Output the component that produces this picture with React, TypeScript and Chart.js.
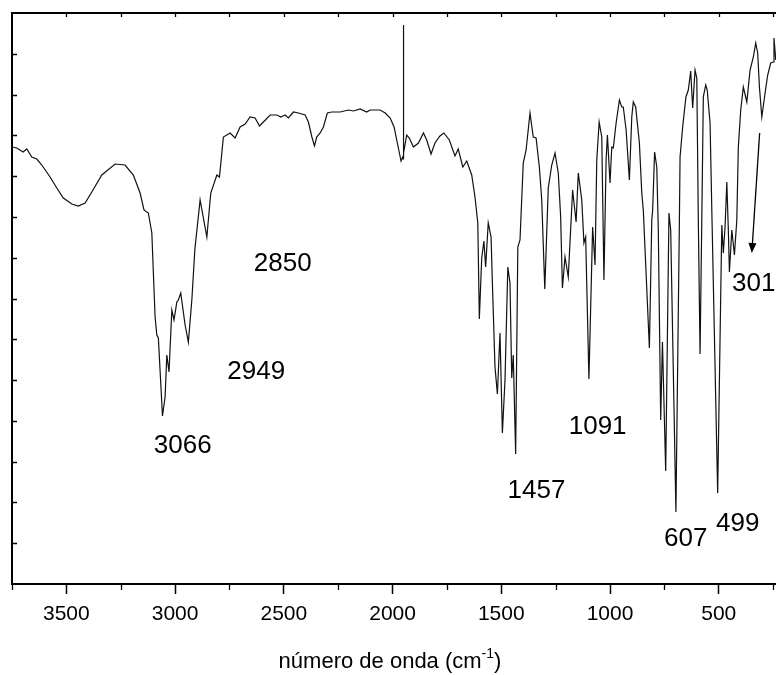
import { useEffect, useRef } from 'react';
import { Chart, registerables } from 'chart.js';

Chart.register(...registerables);

// Wavenumber (cm-1), read left to right
const wavenumbers = [
  3750, 3728, 3699, 3682, 3659, 3636, 3613, 3575, 3544, 3514, 3475, 3445, 3414, 3383, 3337, 3276, 3230, 3192, 3161, 3143,
  3123, 3107, 3092, 3084, 3077, 3058, 3046, 3038, 3028, 3015, 3005, 2992, 2985, 2974, 2954, 2939, 2923, 2909, 2885, 2854,
  2836, 2808, 2796, 2778, 2747, 2724, 2701, 2678, 2655, 2632, 2612, 2594, 2563, 2532, 2514, 2494, 2479, 2456, 2433, 2402,
  2387, 2371, 2359, 2349, 2333, 2318, 2300, 2280, 2241, 2203, 2180, 2149, 2119, 2103, 2057, 2034, 2011, 1993, 1978, 1961,
  1953, 1951, 1950, 1949, 1935, 1923, 1904, 1881, 1858, 1843, 1823, 1805, 1782, 1764, 1739, 1713, 1698, 1677, 1659, 1636,
  1621, 1608, 1601, 1590, 1580, 1572, 1560, 1547, 1540, 1529, 1518, 1506, 1495, 1483, 1470, 1460, 1452, 1445, 1434, 1424,
  1414, 1399, 1386, 1368, 1353, 1340, 1325, 1314, 1300, 1284, 1268, 1253, 1238, 1227, 1219, 1207, 1192, 1172, 1156, 1146,
  1130, 1120, 1112, 1097, 1080, 1069, 1061, 1050, 1038, 1028, 1018, 1012, 1000, 992, 985, 972, 957, 946, 939, 926,
  911, 900, 893, 882, 865, 854, 847, 819, 808, 804, 795, 785, 778, 767, 759, 744, 729, 721, 697, 681,
  678, 666, 651, 640, 629, 620, 609, 601, 594, 586, 578, 571, 560, 553, 540, 531, 505, 486, 479, 471,
  463, 456, 451, 440, 428, 417, 410, 399, 387, 371, 356, 341, 330, 321, 313, 302, 287, 275, 261, 249,
  246, 238,
];

// Transmittance (arbitrary units, axis has no labels)
const transmittance = [
  437, 436, 432, 435, 427, 425, 419, 407, 396, 386, 380, 378, 381, 392, 409, 420, 419, 409, 391, 374,
  371, 351, 267, 249, 246, 168, 187, 229, 212, 274, 264, 282, 284, 291, 259, 242, 284, 335, 384, 347,
  391, 409, 407, 447, 451, 446, 457, 460, 467, 466, 458, 462, 469, 469, 467, 469, 466, 472, 471, 469,
  462, 447, 438, 447, 451, 457, 471, 472, 472, 474, 473, 475, 472, 474, 474, 471, 466, 457, 441, 423,
  427, 425, 559, 431, 449, 446, 437, 441, 451, 444, 430, 441, 448, 451, 444, 428, 435, 417, 423, 409,
  387, 361, 265, 326, 343, 317, 361, 347, 294, 217, 190, 251, 151, 204, 317, 301, 206, 229, 130, 337,
  344, 421, 434, 471, 447, 446, 417, 384, 295, 396, 419, 431, 411, 367, 296, 327, 307, 394, 362, 411,
  384, 341, 347, 205, 357, 319, 424, 462, 447, 304, 424, 449, 401, 437, 436, 461, 484, 477, 477, 454,
  404, 467, 482, 477, 441, 391, 374, 236, 364, 374, 432, 417, 354, 164, 242, 113, 371, 354, 72, 364,
  427, 457, 487, 494, 513, 476, 514, 506, 364, 230, 364, 487, 499, 494, 461, 364, 91, 359, 331, 357,
  402, 354, 312, 354, 329, 364, 437, 474, 497, 482, 514, 527, 541, 531, 497, 467, 491, 509, 521, 522,
  546, 524,
];

const xMajorTicks = [3500, 3000, 2500, 2000, 1500, 1000, 500];
const xMinorTicks = [3750, 3250, 2750, 2250, 1750, 1250, 750, 250];
const xTopTicks = [3500, 3250, 3000, 2750, 2500, 2250, 2000, 1750, 1500, 1250, 1000, 750, 500, 250];
const yMax = 571;
const yTickCount = 14;

const peakLabels = ['3066', '2949', '2850', '1457', '1091', '607', '499', '301'];
const peakLabelX = [2965, 2627, 2505, 1338, 1057, 652, 413, 339];
const peakLabelY = [138, 212, 320, 93, 157, 45, 60, 300];

const arrowStart = { x: 312, y: 451 };
const arrowEnd = { x: 348, y: 331 };

const FONT = '"Liberation Sans", Arial, Helvetica, sans-serif';

const decorPlugin = {
  id: 'decor',
  afterDraw(chart: any) {
    const { ctx, chartArea } = chart;
    const { left, right, top, bottom } = chartArea;
    const xs = chart.scales.x;
    const ys = chart.scales.y;
    ctx.save();
    ctx.strokeStyle = '#000';
    ctx.fillStyle = '#000';
    // top frame line
    ctx.lineWidth = 2;
    ctx.beginPath();
    ctx.moveTo(left - 1, top);
    ctx.lineTo(right, top);
    ctx.stroke();
    ctx.lineWidth = 1.3;
    // top inward ticks
    ctx.beginPath();
    xTopTicks.forEach((v) => {
      const px = Math.round(xs.getPixelForValue(v)) + 0.5;
      ctx.moveTo(px, top);
      ctx.lineTo(px, top + 4);
    });
    // left inward ticks
    const step = yMax / yTickCount;
    for (let i = 1; i < yTickCount; i++) {
      const py = Math.round(ys.getPixelForValue(i * step)) + 0.5;
      ctx.moveTo(left, py);
      ctx.lineTo(left + 5, py);
    }
    // bottom minor ticks
    xMinorTicks.forEach((v) => {
      const px = Math.round(xs.getPixelForValue(v)) + 0.5;
      ctx.moveTo(px, bottom);
      ctx.lineTo(px, bottom + 6);
    });
    ctx.stroke();

    // peak labels
    ctx.font = `26px ${FONT}`;
    ctx.textAlign = 'center';
    ctx.textBaseline = 'middle';
    peakLabels.forEach((t, i) => {
      ctx.fillText(t, xs.getPixelForValue(peakLabelX[i]), ys.getPixelForValue(peakLabelY[i]));
    });

    // arrow
    const ax0 = xs.getPixelForValue(arrowStart.x);
    const ay0 = ys.getPixelForValue(arrowStart.y);
    const ax1 = xs.getPixelForValue(arrowEnd.x);
    const ay1 = ys.getPixelForValue(arrowEnd.y);
    const ang = Math.atan2(ay1 - ay0, ax1 - ax0);
    const hl = 10;
    const hw = 4;
    ctx.lineWidth = 1.3;
    ctx.beginPath();
    ctx.moveTo(ax0, ay0);
    ctx.lineTo(ax1 - Math.cos(ang) * hl * 0.8, ay1 - Math.sin(ang) * hl * 0.8);
    ctx.stroke();
    ctx.beginPath();
    ctx.moveTo(ax1, ay1);
    ctx.lineTo(ax1 - Math.cos(ang) * hl - Math.sin(ang) * hw, ay1 - Math.sin(ang) * hl + Math.cos(ang) * hw);
    ctx.lineTo(ax1 - Math.cos(ang) * hl + Math.sin(ang) * hw, ay1 - Math.sin(ang) * hl - Math.cos(ang) * hw);
    ctx.closePath();
    ctx.fill();

    // axis title with superscript
    const main = 'número de onda (cm';
    const sup = '-1';
    const close = ')';
    ctx.textAlign = 'left';
    ctx.textBaseline = 'alphabetic';
    ctx.font = `22px ${FONT}`;
    const w1 = ctx.measureText(main).width;
    const w3 = ctx.measureText(close).width;
    ctx.font = `14px ${FONT}`;
    const w2 = ctx.measureText(sup).width;
    const total = w1 + w2 + w3;
    const cx = 390;
    const base = bottom + 84;
    let x0 = cx - total / 2;
    ctx.font = `22px ${FONT}`;
    ctx.fillText(main, x0, base);
    x0 += w1;
    ctx.font = `14px ${FONT}`;
    ctx.fillText(sup, x0, base - 10);
    x0 += w2;
    ctx.font = `22px ${FONT}`;
    ctx.fillText(close, x0, base);
    ctx.restore();
  },
};

export default function App() {
  const ref = useRef<HTMLCanvasElement | null>(null);
  useEffect(() => {
    if (!ref.current) return;
    const points = wavenumbers.map((w, i) => ({ x: w, y: transmittance[i] }));
    const chart = new Chart(ref.current, {
      type: 'line',
      data: {
        datasets: [
          {
            data: points,
            borderColor: '#111',
            borderWidth: 1.2,
            pointRadius: 0,
            tension: 0,
            fill: false,
          },
        ],
      },
      options: {
        responsive: false,
        animation: false,
        devicePixelRatio: 1,
        layout: { padding: { top: 13, left: 0, right: 0, bottom: 0 } },
        plugins: { legend: { display: false }, tooltip: { enabled: false } },
        scales: {
          x: {
            type: 'linear',
            reverse: true,
            min: 200,
            max: 3750,
            afterBuildTicks: (scale: any) => {
              scale.ticks = xMajorTicks.map((v) => ({ value: v }));
            },
            afterFit: (scale: any) => {
              scale.height = 91;
            },
            ticks: {
              color: '#000',
              font: { family: FONT, size: 21 },
              padding: 8,
              maxRotation: 0,
              autoSkip: false,
              callback: (v: any) => String(v),
            },
            grid: {
              display: true,
              drawOnChartArea: false,
              drawTicks: true,
              tickLength: 10,
              tickWidth: 1.5,
              tickColor: '#000',
              color: '#000',
            },
            border: { display: true, color: '#000', width: 2 },
          },
          y: {
            type: 'linear',
            min: 0,
            max: yMax,
            afterFit: (scale: any) => {
              scale.width = 12;
            },
            ticks: { display: false },
            grid: { display: false, drawTicks: false },
            border: { display: true, color: '#000', width: 2 },
          },
        },
      },
      plugins: [decorPlugin],
    });
    return () => chart.destroy();
  }, []);
  return (
    <div
      style={{
        position: 'absolute',
        left: 0,
        top: 0,
        width: 776,
        height: 675,
        overflow: 'hidden',
        background: '#fff',
      }}
    >
      <canvas ref={ref} width={784} height={675} style={{ display: 'block' }} />
    </div>
  );
}
